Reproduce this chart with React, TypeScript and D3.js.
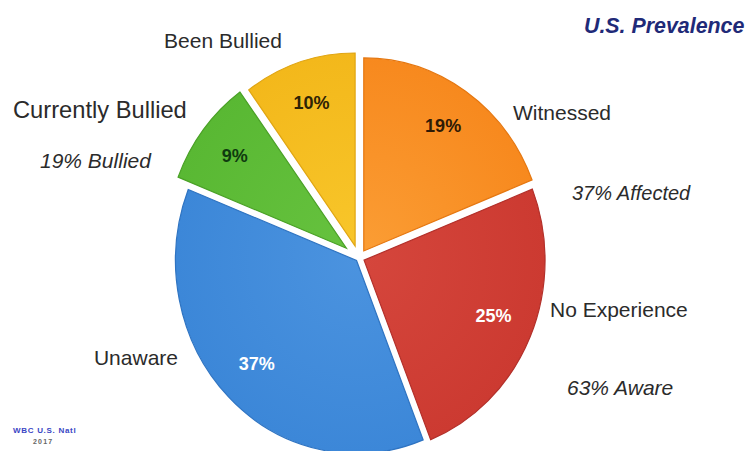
import React from "react";
import * as d3 from "d3";

// ---- data ----
const categories = ["Witnessed", "No Experience", "Unaware", "Currently Bullied", "Been Bullied"];
const values = [19, 25, 37, 9, 10];
const groupNotes = ["19% Bullied", "37% Affected", "63% Aware"];
const title = "U.S. Prevalence";
const footer = ["WBC U.S. Natl", "2017"];

// ---- styles ----
const fills = ["#f7891e", "#cc3a31", "#3c87d8", "#59b833", "#f3b81b"];
const lights = ["#fb9d34", "#d5463c", "#4b93df", "#66c23e", "#f8c62a"];
const strokes = ["#e57710", "#b3302a", "#2f74c2", "#4aa126", "#e0a512"];
const valueColors = ["#2e1a05", "#ffffff", "#ffffff", "#0f3a0f", "#2e2305"];
const valueWeights = [700, 700, 600, 700, 700];
const explode = [8.5, 5.5, 3.5, 16, 12.6];
const labelShift = [0, -4, -3, 0, 0];

const W = 753;
const H = 451;
const CX = 359;
const CY = 258;
const RY = 193;
const RX = 181;
const SX = RX / RY;

export default function App() {
  const pie = d3
    .pie<number>()
    .sort(null)
    .value((d) => d)
    .startAngle(0)
    .endAngle(2 * Math.PI);
  const arcs = pie(values);
  const arc = d3.arc<d3.PieArcDatum<number>>().innerRadius(0).outerRadius(RY);
  const labelArc = d3
    .arc<d3.PieArcDatum<number>>()
    .innerRadius(RY * 0.78)
    .outerRadius(RY * 0.78);

  const font = "'Liberation Sans', Arial, Helvetica, sans-serif";
  const textColor = "#2b2b2b";

  return (
    <svg
      width={W}
      height={H}
      viewBox={`0 0 ${W} ${H}`}
      style={{ position: "absolute", left: 0, top: 0, background: "#fff" }}
    >
      <defs>
        {fills.map((f, i) => (
          <radialGradient
            key={i}
            id={`g${i}`}
            gradientUnits="userSpaceOnUse"
            cx={0}
            cy={0}
            r={RY}
          >
            <stop offset="0%" stopColor={lights[i]} />
            <stop offset="100%" stopColor={f} />
          </radialGradient>
        ))}
      </defs>
      <rect x={0} y={0} width={W} height={H} fill="#ffffff" />
      {arcs.map((a, i) => {
        const mid = (a.startAngle + a.endAngle) / 2;
        const ox = CX + explode[i] * Math.sin(mid);
        const oy = CY - explode[i] * Math.cos(mid);
        const c = labelArc.centroid(a);
        return (
          <g key={categories[i]}>
            <path
              d={arc(a) || ""}
              transform={`translate(${ox},${oy}) scale(${SX},1)`}
              fill={`url(#g${i})`}
              stroke={strokes[i]}
              strokeWidth={1.2}
              vectorEffect="non-scaling-stroke"
            />
            <text
              x={ox + c[0] * SX}
              y={oy + c[1] + labelShift[i]}
              textAnchor="middle"
              dominantBaseline="central"
              fontFamily={font}
              fontSize={18}
              fontWeight={valueWeights[i]}
              fill={valueColors[i]}
            >
              {`${values[i]}%`}
            </text>
          </g>
        );
      })}

      {/* category labels */}
      <text x={513} y={120} fontFamily={font} fontSize={21} fill={textColor}>
        {categories[0]}
      </text>
      <text x={550} y={317} fontFamily={font} fontSize={21} fill={textColor}>
        {categories[1]}
      </text>
      <text x={178} y={365} textAnchor="end" fontFamily={font} fontSize={21} fill={textColor}>
        {categories[2]}
      </text>
      <text x={13} y={118} fontFamily={font} fontSize={23.7} fill={textColor}>
        {categories[3]}
      </text>
      <text x={223} y={48} textAnchor="middle" fontFamily={font} fontSize={21} fill={textColor}>
        {categories[4]}
      </text>

      {/* group notes */}
      <text x={40} y={168} fontFamily={font} fontSize={21} fontStyle="italic" fill={textColor}>
        {groupNotes[0]}
      </text>
      <text x={572} y={200} fontFamily={font} fontSize={20} fontStyle="italic" fill={textColor}>
        {groupNotes[1]}
      </text>
      <text x={567} y={395} fontFamily={font} fontSize={21} fontStyle="italic" fill={textColor}>
        {groupNotes[2]}
      </text>

      {/* title */}
      <text
        transform="translate(584,33) scale(0.93,1)"
        x={0}
        y={0}
        fontFamily={font}
        fontSize={23}
        fontWeight={700}
        fontStyle="italic"
        fill="#1f2a78"
      >
        {title}
      </text>

      {/* footer */}
      <text x={13} y={433} fontFamily={font} fontSize={8} fontWeight={700} fill="#3a46c4" letterSpacing={0.7}>
        {footer[0]}
      </text>
      <text x={33} y={444} fontFamily={font} fontSize={7} fontWeight={700} fill="#666" letterSpacing={1.2}>
        {footer[1]}
      </text>
    </svg>
  );
}
